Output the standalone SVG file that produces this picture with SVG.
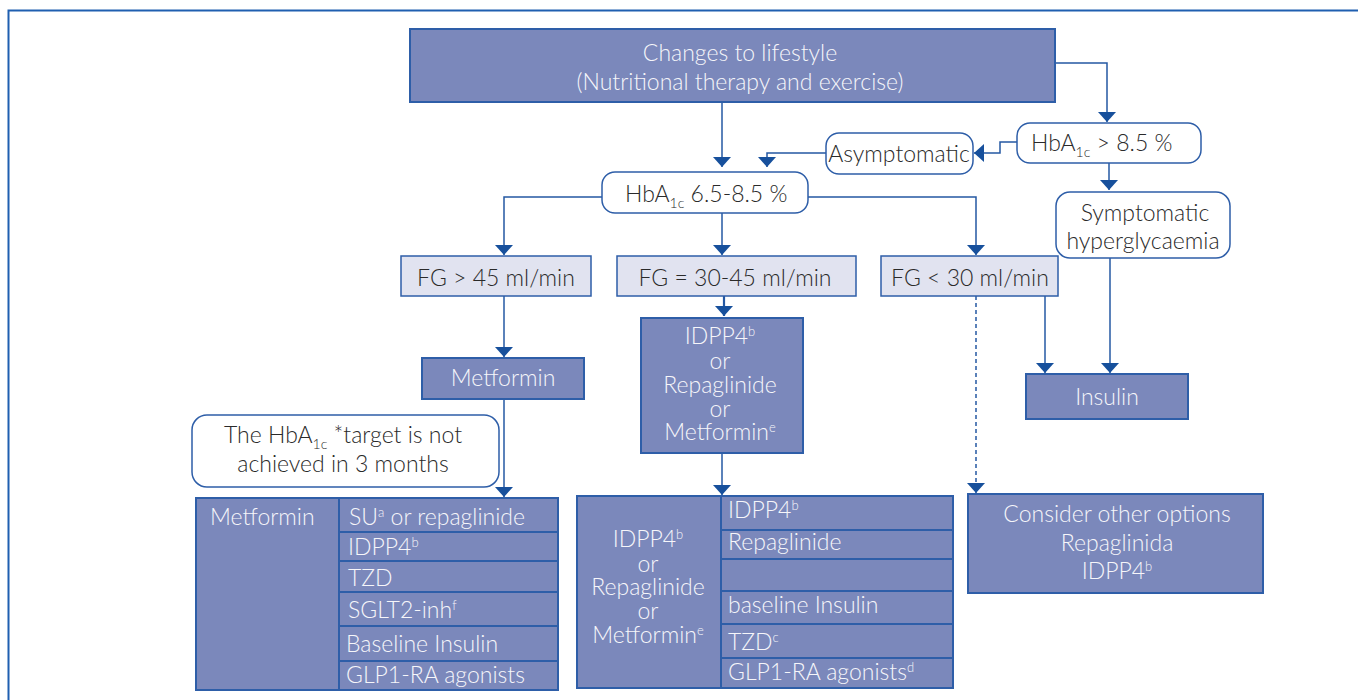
<svg xmlns="http://www.w3.org/2000/svg" width="1358" height="700" viewBox="0 0 1358 700">
<style>
.dark{fill:#7b88bb;stroke:#2e5ea8;stroke-width:2}
.light{fill:#e1e3f0;stroke:#2e5ea8;stroke-width:1.5}
.round{fill:#ffffff;stroke:#2e5ea8;stroke-width:1.5}
.wt{font-family:Lato,"Open Sans",sans-serif;font-weight:300;font-size:23px;fill:#f6f6fa}
.bt{font-family:Lato,"Open Sans",sans-serif;font-weight:300;font-size:23px;fill:#2a2a2a}
.c{text-anchor:middle}
.ln{fill:none;stroke:#2458a3;stroke-width:1.5}
.dash{stroke-dasharray:4 3}
.frame{fill:none;stroke:#1f5fb0;stroke-width:2}
</style>
<defs>
<marker id="ah" viewBox="0 0 10 18" refX="10" refY="9" markerWidth="10" markerHeight="18" markerUnits="userSpaceOnUse" orient="auto">
<path d="M0,0 L10,9 L0,18 z" fill="#17509c"/>
</marker>
</defs>
<path class="frame" d="M1358,10.5 H8.5 V700"/>

<g id="connectors">
<path class="ln" d="M722,102 V167" marker-end="url(#ah)"/>
<path class="ln" d="M826,153 H767 V167" marker-end="url(#ah)"/>
<path class="ln" d="M1017,142 H1000 V153 H974" marker-end="url(#ah)"/>
<path class="ln" d="M1055,63 H1107 V122" marker-end="url(#ah)"/>
<path class="ln" d="M1109,163 V190" marker-end="url(#ah)"/>
<path class="ln" d="M602,197 H504 V255" marker-end="url(#ah)"/>
<path class="ln" d="M722,213 V255" marker-end="url(#ah)"/>
<path class="ln" d="M808,197 H976 V255" marker-end="url(#ah)"/>
<path class="ln" d="M504,296 V357" marker-end="url(#ah)"/>
<path class="ln" style="stroke-width:2.2" d="M724,296 V316" marker-end="url(#ah)"/>
<path class="ln" d="M504,399 V497" marker-end="url(#ah)"/>
<path class="ln" d="M722,453 V495" marker-end="url(#ah)"/>
<path class="ln" d="M1045,296 V373" marker-end="url(#ah)"/>
<path class="ln" d="M1110,258 V373" marker-end="url(#ah)"/>
<path class="ln dash" d="M976,296 V493" marker-end="url(#ah)"/>
</g>

<g id="lifestyle">
<rect class="dark" x="410" y="29" width="645" height="73"/>
<text class="wt c" x="740" y="61">Changes to lifestyle<tspan x="740" dy="29">(Nutritional therapy and exercise)</tspan></text>
</g>

<g id="hba-mid">
<rect class="round" x="602" y="172" width="206" height="41" rx="13"/>
<text class="bt" x="625" y="202">HbA<tspan font-size="14" dy="6">1c</tspan><tspan dy="-6"> 6.5-8.5 %</tspan></text>
</g>

<g id="asymptomatic">
<rect class="round" x="826" y="133" width="147" height="41" rx="13"/>
<text class="bt c" x="899" y="162">Asymptomatic</text>
</g>

<g id="hba-high">
<rect class="round" x="1017" y="123" width="184" height="40" rx="13"/>
<text class="bt" x="1031" y="151">HbA<tspan font-size="14" dy="6">1c</tspan><tspan dy="-6"> &gt; 8.5 %</tspan></text>
</g>

<g id="symptomatic">
<rect class="round" x="1056" y="192" width="174" height="66" rx="14"/>
<text class="bt c" x="1145" y="221">Symptomatic<tspan x="1143" dy="28">hyperglycaemia</tspan></text>
</g>

<g id="fg45">
<rect class="light" x="401" y="256" width="190" height="40"/>
<text class="bt c" x="496" y="286">FG &gt; 45 ml/min</text>
</g>
<g id="fg3045">
<rect class="light" x="617" y="256" width="239" height="40"/>
<text class="bt c" x="735" y="286">FG = 30-45 ml/min</text>
</g>
<g id="fg30">
<rect class="light" x="881" y="256" width="177" height="40"/>
<text class="bt c" x="970" y="286">FG &lt; 30 ml/min</text>
</g>

<g id="metformin">
<rect class="dark" x="422" y="358" width="162" height="41"/>
<text class="wt c" x="503" y="386">Metformin</text>
</g>

<g id="idpp4-mid">
<rect class="dark" x="641" y="318" width="162" height="135"/>
<text class="wt c" x="720" y="344">IDPP4<tspan font-size="13" dy="-8">b</tspan><tspan x="720" dy="33">or</tspan><tspan x="720" dy="24">Repaglinide</tspan><tspan x="720" dy="24">or</tspan><tspan x="720" dy="23">Metformin</tspan><tspan font-size="13" dy="-8">e</tspan></text>
</g>

<g id="insulin">
<rect class="dark" x="1026" y="374" width="162" height="45"/>
<text class="wt c" x="1107" y="405">Insulin</text>
</g>

<g id="target">
<rect class="round" x="192" y="415" width="307" height="72" rx="15"/>
<text class="bt c" x="343" y="443">The HbA<tspan font-size="14" dy="6">1c</tspan><tspan dy="-6"> *target is not</tspan><tspan x="343" dy="29">achieved in 3 months</tspan></text>
</g>

<g id="table-left">
<rect class="dark" x="196" y="498" width="143" height="192"/>
<rect class="dark" x="339" y="498" width="219" height="34"/>
<rect class="dark" x="339" y="532" width="219" height="29"/>
<rect class="dark" x="339" y="561" width="219" height="31"/>
<rect class="dark" x="339" y="592" width="219" height="34"/>
<rect class="dark" x="339" y="626" width="219" height="35"/>
<rect class="dark" x="339" y="661" width="219" height="29"/>
<text class="wt" x="210" y="525">Metformin</text>
<text class="wt" x="349" y="525">SU<tspan font-size="13" dy="-8">a</tspan><tspan dy="8"> or repaglinide</tspan></text>
<text class="wt" x="348" y="555">IDPP4<tspan font-size="13" dy="-8">b</tspan></text>
<text class="wt" x="348" y="586">TZD</text>
<text class="wt" x="348" y="618">SGLT2-inh<tspan font-size="13" dy="-8">f</tspan></text>
<text class="wt" x="346" y="652">Baseline Insulin</text>
<text class="wt" x="346" y="683">GLP1-RA agonists</text>
</g>

<g id="table-mid">
<rect class="dark" x="577" y="496" width="144" height="192"/>
<rect class="dark" x="721" y="496" width="232" height="34"/>
<rect class="dark" x="721" y="530" width="232" height="29"/>
<rect class="dark" x="721" y="559" width="232" height="32"/>
<rect class="dark" x="721" y="591" width="232" height="33"/>
<rect class="dark" x="721" y="624" width="232" height="34"/>
<rect class="dark" x="721" y="658" width="232" height="30"/>
<text class="wt c" x="648" y="547">IDPP4<tspan font-size="13" dy="-8">b</tspan><tspan x="648" dy="33">or</tspan><tspan x="648" dy="23">Repaglinide</tspan><tspan x="648" dy="24">or</tspan><tspan x="648" dy="24">Metformin</tspan><tspan font-size="13" dy="-8">e</tspan></text>
<text class="wt" x="728" y="518">IDPP4<tspan font-size="13" dy="-8">b</tspan></text>
<text class="wt" x="728" y="550">Repaglinide</text>
<text class="wt" x="728" y="613">baseline Insulin</text>
<text class="wt" x="728" y="650">TZD<tspan font-size="13" dy="-8">c</tspan></text>
<text class="wt" x="728" y="680">GLP1-RA agonists<tspan font-size="13" dy="-8">d</tspan></text>
</g>

<g id="consider">
<rect class="dark" x="968" y="494" width="295" height="99"/>
<text class="wt c" x="1117" y="522">Consider other options<tspan x="1117" dy="29">Repaglinida</tspan><tspan x="1117" dy="28">IDPP4</tspan><tspan font-size="13" dy="-8">b</tspan></text>
</g>
</svg>
